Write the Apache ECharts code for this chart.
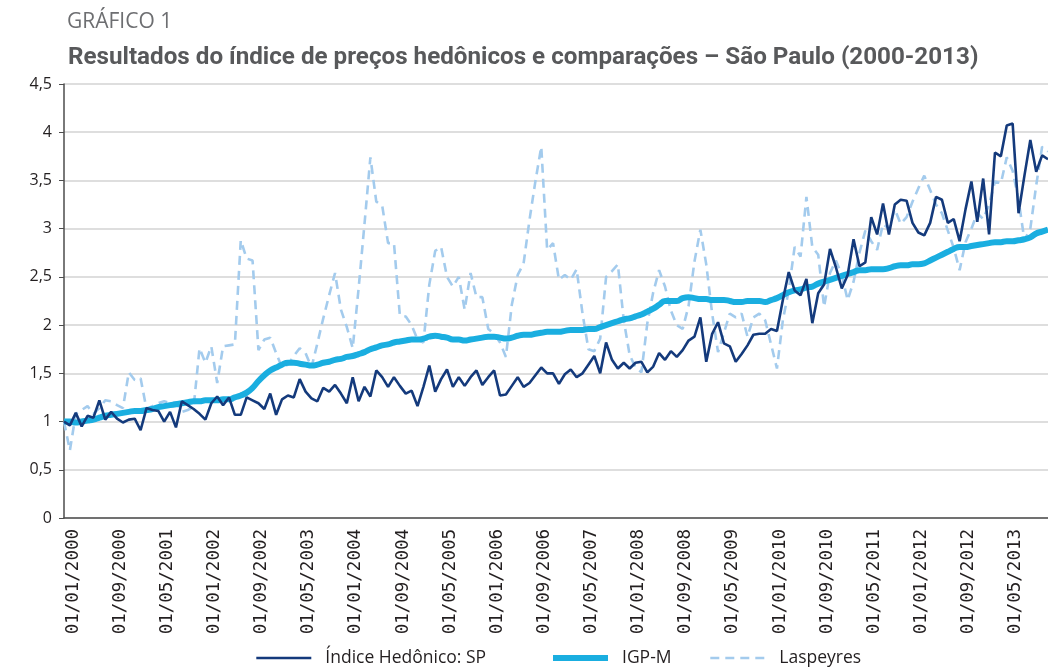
<!DOCTYPE html>
<html>
<head>
<meta charset="utf-8">
<script src="https://cdn.jsdelivr.net/npm/echarts@6/dist/echarts.min.js"></script>
<style>
html,body{margin:0;padding:0;background:#fff;}
#chart{width:1048px;height:669px;}
</style>
</head>
<body>
<div id="chart"></div>
<script>
// Monthly series, Jan 2000 – Dec 2013
const years = [2000,2001,2002,2003,2004,2005,2006,2007,2008,2009,2010,2011,2012,2013];
const months = ['01','02','03','04','05','06','07','08','09','10','11','12'];
const categories = [];
years.forEach(y => months.forEach(m => categories.push('01/' + m + '/' + y)));

const seriesNames = ['Índice Hedônico: SP', 'IGP-M', 'Laspeyres'];
const yTicks = [0, 0.5, 1, 1.5, 2, 2.5, 3, 3.5, 4, 4.5];

const hedonico = [
1.00,0.96,1.09,0.95,1.06,1.04,1.22,1.02,1.10,1.03,0.99,1.02,
1.03,0.91,1.14,1.12,1.11,1.00,1.10,0.94,1.21,1.17,1.13,1.08,
1.02,1.19,1.26,1.17,1.25,1.07,1.07,1.25,1.22,1.19,1.13,1.29,
1.07,1.23,1.27,1.25,1.44,1.31,1.24,1.21,1.35,1.31,1.38,1.29,
1.19,1.46,1.21,1.36,1.26,1.53,1.46,1.36,1.46,1.37,1.29,1.32,
1.16,1.36,1.58,1.31,1.44,1.54,1.36,1.46,1.37,1.46,1.53,1.38,
1.46,1.53,1.27,1.28,1.37,1.46,1.36,1.40,1.48,1.56,1.50,1.50,
1.39,1.49,1.54,1.46,1.50,1.59,1.68,1.50,1.82,1.64,1.55,1.61,
1.55,1.61,1.62,1.51,1.57,1.71,1.64,1.73,1.67,1.74,1.84,1.88,
2.08,1.62,1.91,2.03,1.81,1.78,1.62,1.70,1.79,1.90,1.91,1.91,
1.96,1.94,2.26,2.55,2.36,2.31,2.48,2.02,2.33,2.42,2.79,2.60,
2.38,2.52,2.89,2.61,2.65,3.12,2.94,3.26,2.94,3.25,3.30,3.29,
3.06,2.96,2.93,3.06,3.33,3.30,3.06,3.10,2.87,3.20,3.49,3.07,
3.52,2.94,3.79,3.75,4.07,4.09,3.16,3.55,3.92,3.59,3.76,3.72
];

const igpm = [
1.00,1.00,0.99,1.00,1.01,1.02,1.04,1.06,1.07,1.08,1.09,1.10,
1.11,1.11,1.12,1.13,1.15,1.16,1.17,1.18,1.19,1.20,1.21,1.21,
1.22,1.22,1.22,1.23,1.23,1.25,1.27,1.30,1.35,1.42,1.48,1.53,
1.56,1.59,1.61,1.61,1.60,1.59,1.58,1.59,1.61,1.62,1.64,1.65,
1.67,1.68,1.70,1.72,1.75,1.77,1.79,1.80,1.82,1.83,1.84,1.85,
1.85,1.86,1.88,1.89,1.88,1.87,1.85,1.85,1.84,1.85,1.86,1.87,
1.88,1.88,1.87,1.86,1.87,1.89,1.90,1.90,1.91,1.92,1.93,1.93,
1.93,1.94,1.95,1.95,1.95,1.96,1.96,1.98,2.00,2.02,2.04,2.06,
2.07,2.09,2.11,2.14,2.17,2.21,2.25,2.25,2.25,2.28,2.29,2.28,
2.27,2.27,2.26,2.26,2.26,2.25,2.24,2.24,2.25,2.25,2.25,2.24,
2.26,2.28,2.31,2.34,2.36,2.37,2.39,2.40,2.43,2.45,2.47,2.49,
2.51,2.53,2.55,2.57,2.57,2.58,2.58,2.58,2.59,2.61,2.62,2.62,
2.63,2.63,2.64,2.67,2.70,2.73,2.76,2.79,2.81,2.81,2.82,2.83,
2.84,2.85,2.86,2.86,2.87,2.87,2.88,2.89,2.91,2.95,2.97,2.99
];

const laspeyres = [
1.00,0.70,1.08,1.12,1.16,1.08,1.14,1.22,1.21,1.17,1.14,1.51,
1.43,1.45,1.13,1.16,1.19,1.21,1.19,1.20,1.10,1.12,1.15,1.76,
1.61,1.78,1.40,1.78,1.79,1.80,2.88,2.69,2.67,1.74,1.85,1.87,
1.71,1.56,1.59,1.68,1.76,1.71,1.56,1.81,2.07,2.31,2.54,2.16,
1.98,1.76,2.38,3.05,3.74,3.28,3.24,2.85,2.85,2.10,2.09,2.00,
1.85,1.82,2.42,2.77,2.81,2.50,2.40,2.50,2.16,2.54,2.29,2.29,
1.96,1.91,1.82,1.67,2.21,2.52,2.64,3.09,3.49,3.85,2.78,2.85,
2.47,2.52,2.47,2.58,2.12,1.75,1.73,1.86,2.50,2.56,2.63,2.05,
1.69,1.56,1.51,2.02,2.34,2.57,2.40,2.15,2.00,1.96,2.20,2.66,
2.99,2.63,2.12,1.72,1.92,2.12,2.08,2.12,1.88,2.08,2.12,2.05,
1.80,1.55,2.05,2.36,2.81,2.71,3.33,2.81,2.73,2.19,2.54,2.67,
2.52,2.26,2.45,2.75,2.98,2.87,2.78,3.05,3.00,3.20,3.05,3.12,
3.28,3.42,3.55,3.40,3.25,3.16,2.98,2.80,2.57,2.86,3.00,3.16,
3.10,3.25,3.49,3.47,3.74,3.60,3.30,2.88,3.00,3.45,3.85,3.80
];

const cHed = '#143a7c', cIgp = '#1aaee0', cLas = '#a3cbed';
const legendText = {fontFamily: 'Open Sans', fontSize: 17.5, color: '#231f20', padding: [0, 0, 0, 9]};
function mkLegend(name, left, width) {
  return {
    left: left, bottom: -3,
    itemWidth: 55, itemHeight: 14,
    itemStyle: {opacity: 0},
    textStyle: legendText,
    data: [{name: name, lineStyle: {width: width}}]
  };
}

const chart = echarts.init(document.getElementById('chart'), null, {renderer: 'canvas'});
chart.setOption({
  animation: false,
  backgroundColor: '#ffffff',
  title: [
    {
      text: 'GRÁFICO 1',
      left: 62, top: 7,
      textStyle: {fontFamily: 'Open Sans', fontSize: 21, fontWeight: 'normal', color: '#6d6e71'}
    },
    {
      text: 'Resultados do índice de preços hedônicos e comparações – São Paulo (2000-2013)',
      left: 63, top: 41,
      textStyle: {fontFamily: '"Liberation Sans Narrow", "Roboto", sans-serif', fontSize: 24.2, fontWeight: 'bold', color: '#58595b'}
    }
  ],
  legend: [
    mkLegend(seriesNames[0], 250, 2.6),
    mkLegend(seriesNames[1], 545, 6),
    mkLegend(seriesNames[2], 704, 2.6)
  ],
  grid: {left: 64, right: 0, top: 84, bottom: 151, containLabel: false},
  xAxis: {
    type: 'category',
    data: categories,
    boundaryGap: false,
    axisLine: {show: true, lineStyle: {color: '#4d4d4d', width: 1.5}},
    axisTick: {show: false},
    axisLabel: {
      interval: 7, rotate: 90, margin: 11,
      verticalAlign: 'top',
      fontFamily: 'DejaVu Sans Mono', fontSize: 17.5, color: '#231f20'
    },
    splitLine: {show: false}
  },
  yAxis: {
    type: 'value',
    min: yTicks[0], max: yTicks[yTicks.length - 1], interval: 0.5,
    axisLine: {show: true, lineStyle: {color: '#4d4d4d', width: 1.5}},
    axisTick: {show: true, inside: false, length: 5, lineStyle: {color: '#4d4d4d'}},
    axisLabel: {
      margin: 12,
      fontFamily: 'Open Sans', fontSize: 16, color: '#231f20',
      formatter: v => String(v).replace('.', ',')
    },
    splitLine: {show: true, lineStyle: {color: '#d3d3d3', width: 1.5}}
  },
  series: [
    {
      name: seriesNames[0], type: 'line', data: hedonico,
      showSymbol: false, symbol: 'none', smooth: false,
      lineStyle: {color: cHed, width: 2.6},
      itemStyle: {color: cHed}, z: 4
    },
    {
      name: seriesNames[1], type: 'line', data: igpm,
      showSymbol: false, symbol: 'none', smooth: true,
      lineStyle: {color: cIgp, width: 6},
      itemStyle: {color: cIgp}, z: 3
    },
    {
      name: seriesNames[2], type: 'line', data: laspeyres,
      showSymbol: false, symbol: 'none', smooth: false,
      lineStyle: {color: cLas, width: 2.6, type: [9, 6]},
      itemStyle: {color: cLas}, z: 2
    }
  ]
});
</script>
</body>
</html>
